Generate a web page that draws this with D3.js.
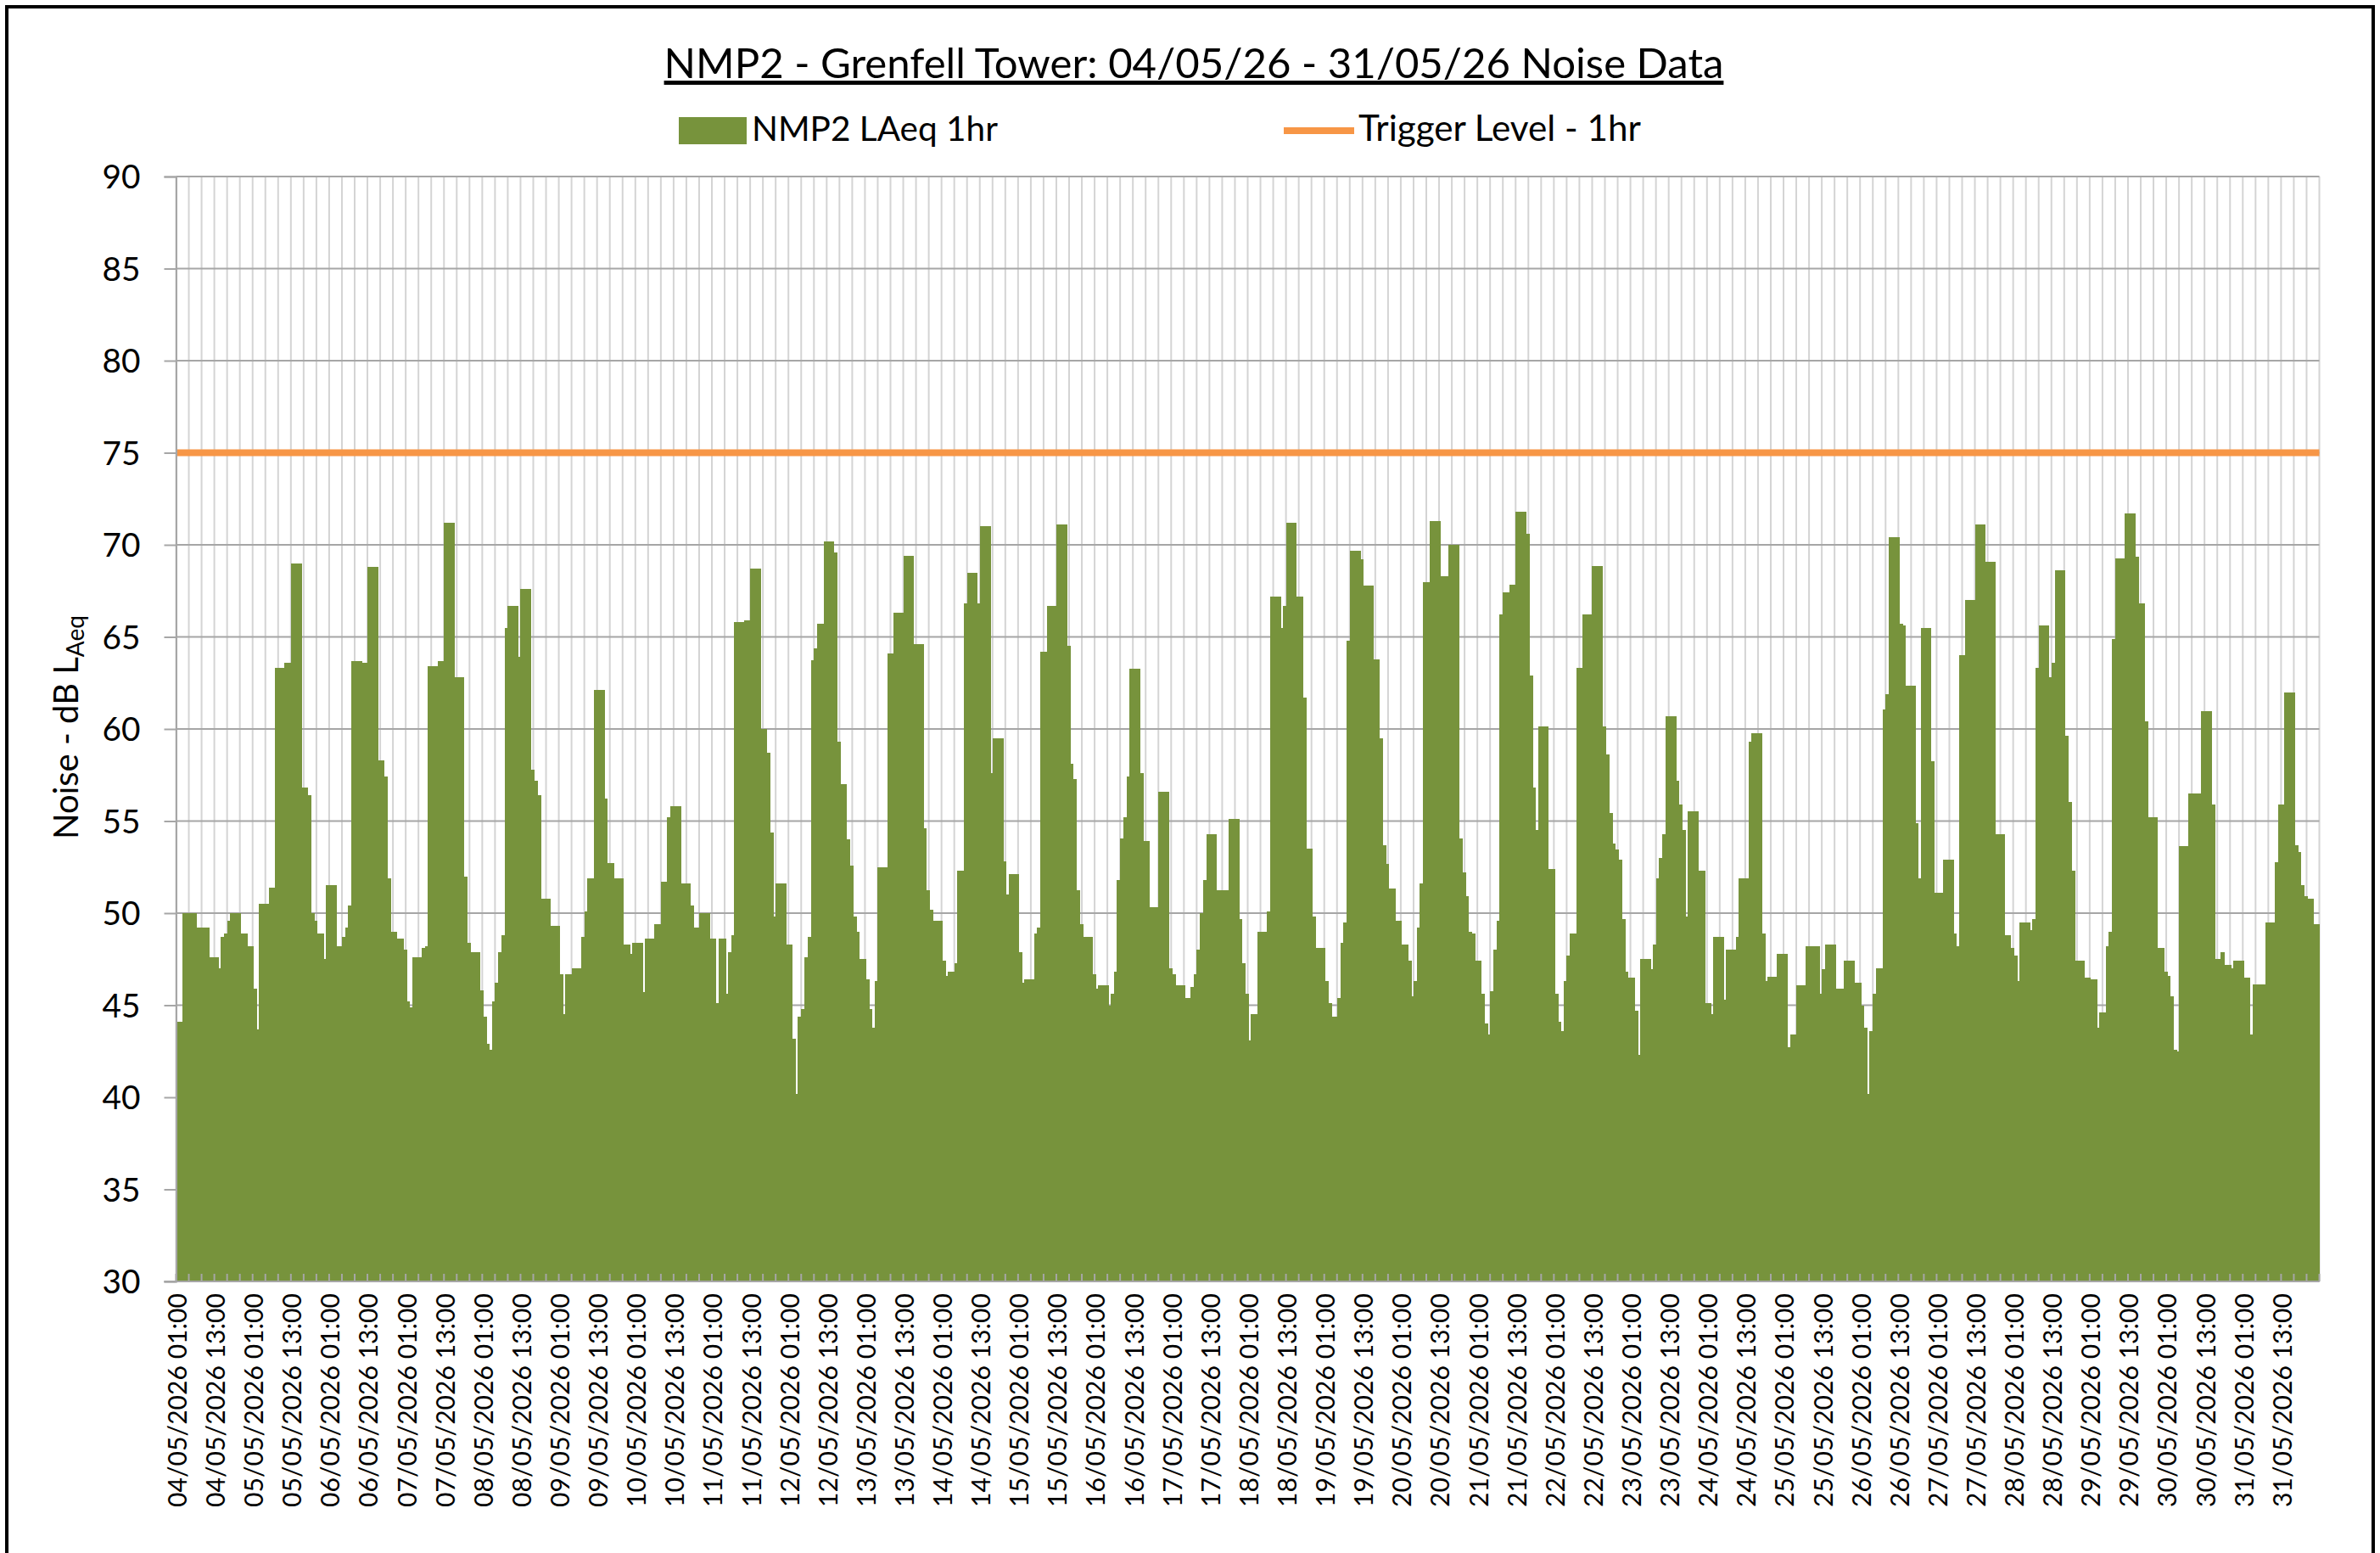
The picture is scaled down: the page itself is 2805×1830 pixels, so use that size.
<!DOCTYPE html>
<html>
<head>
<meta charset="utf-8">
<script src="https://cdn.jsdelivr.net/npm/d3@7"></script>
<style>
  html, body { margin: 0; padding: 0; background: #fff; }
  svg { display: block; }
  text { font-family: Lato, 'Open Sans', sans-serif; fill: #000; }
</style>
</head>
<body>
<svg id="chart"></svg>
<script>
const title = 'NMP2 - Grenfell Tower: 04/05/26 - 31/05/26 Noise Data';
const seriesName = 'NMP2 LAeq 1hr';
const triggerName = 'Trigger Level - 1hr';
const triggerLevel = 75;
const yTicks = [30, 35, 40, 45, 50, 55, 60, 65, 70, 75, 80, 85, 90];

const days = [
  '04/05/2026', '05/05/2026', '06/05/2026', '07/05/2026', '08/05/2026', '09/05/2026', '10/05/2026',
  '11/05/2026', '12/05/2026', '13/05/2026', '14/05/2026', '15/05/2026', '16/05/2026', '17/05/2026',
  '18/05/2026', '19/05/2026', '20/05/2026', '21/05/2026', '22/05/2026', '23/05/2026', '24/05/2026',
  '25/05/2026', '26/05/2026', '27/05/2026', '28/05/2026', '29/05/2026', '30/05/2026', '31/05/2026',
  '01/06/2026'
];
const hours = [
  '01:00', '02:00', '03:00', '04:00', '05:00', '06:00', '07:00', '08:00', '09:00', '10:00', '11:00', '12:00',
  '13:00', '14:00', '15:00', '16:00', '17:00', '18:00', '19:00', '20:00', '21:00', '22:00', '23:00', '00:00'
];

// hourly LAeq, one row per day (01:00 ... 00:00)
const laeq = [
  44.1, 44.1, 50.0, 50.0, 50.0, 50.0, 49.2, 49.2, 49.2, 49.2, 47.6, 47.6, 47.6, 47.0, 48.7, 48.9, 49.6, 50.0, 50.0, 50.0, 48.9, 48.9, 48.2, 48.2,
  45.9, 43.7, 50.5, 50.5, 50.5, 51.4, 51.4, 63.3, 63.3, 63.3, 63.6, 63.6, 69.0, 69.0, 69.0, 56.8, 56.8, 56.4, 50.0, 49.6, 48.9, 48.9, 47.5, 51.5,
  51.5, 51.5, 48.2, 48.2, 48.7, 49.2, 50.4, 63.7, 63.7, 63.7, 63.6, 63.6, 68.8, 68.8, 68.8, 58.3, 58.3, 57.4, 51.9, 49.0, 49.0, 48.6, 48.6, 48.0,
  45.2, 44.9, 47.6, 47.6, 47.6, 48.1, 48.2, 63.4, 63.4, 63.4, 63.7, 63.7, 71.2, 71.2, 71.2, 62.8, 62.8, 62.8, 52.0, 48.4, 47.9, 47.9, 47.9, 45.8,
  44.4, 42.9, 42.6, 45.2, 46.2, 47.9, 48.8, 65.5, 66.7, 66.7, 66.7, 63.9, 67.6, 67.6, 67.6, 57.8, 57.2, 56.4, 50.8, 50.8, 50.8, 49.3, 49.3, 49.3,
  46.7, 44.5, 46.7, 46.7, 47.0, 47.0, 47.0, 48.7, 50.1, 51.9, 51.9, 62.1, 62.1, 62.1, 56.2, 52.7, 52.7, 51.9, 51.9, 51.9, 48.3, 48.3, 47.8, 48.4,
  48.4, 48.4, 45.7, 48.6, 48.6, 48.6, 49.4, 49.4, 51.7, 51.7, 55.2, 55.8, 55.8, 55.8, 51.6, 51.6, 51.6, 50.4, 49.2, 49.2, 50.0, 50.0, 50.0, 48.6,
  48.6, 45.1, 48.6, 48.6, 45.6, 47.9, 48.8, 65.8, 65.8, 65.8, 65.9, 65.9, 68.7, 68.7, 68.7, 60.0, 60.0, 58.7, 54.4, 49.8, 51.6, 51.6, 51.6, 48.3,
  48.3, 43.2, 40.2, 44.4, 44.8, 47.6, 48.7, 63.75, 64.4, 65.7, 65.7, 70.2, 70.2, 70.2, 69.6, 59.3, 57.0, 57.0, 54.0, 52.6, 49.8, 49.0, 47.5, 47.5,
  46.4, 44.8, 43.8, 46.3, 52.5, 52.5, 52.5, 64.1, 64.1, 66.3, 66.3, 66.3, 69.4, 69.4, 69.4, 64.6, 64.6, 64.6, 54.6, 51.25, 50.2, 49.6, 49.6, 49.6,
  47.4, 46.6, 46.8, 46.8, 47.3, 52.3, 52.3, 66.8, 68.5, 68.5, 68.5, 66.8, 71.0, 71.0, 71.0, 57.6, 59.5, 59.5, 59.5, 52.8, 51.0, 52.1, 52.1, 52.1,
  47.9, 46.2, 46.4, 46.4, 46.4, 48.9, 49.2, 64.2, 64.2, 66.7, 66.7, 66.7, 71.1, 71.1, 71.1, 64.5, 58.1, 57.3, 51.25, 49.4, 48.7, 48.7, 48.7, 46.7,
  45.9, 46.1, 46.1, 46.1, 45.0, 45.6, 46.8, 51.8, 54.05, 55.2, 57.4, 63.25, 63.25, 63.25, 57.6, 53.9, 53.9, 50.3, 50.3, 50.3, 56.6, 56.6, 56.6, 47.0,
  46.7, 46.1, 46.1, 46.1, 45.4, 45.4, 46.0, 46.7, 48.0, 50.0, 51.8, 54.3, 54.3, 54.3, 51.25, 51.25, 51.25, 51.25, 55.1, 55.1, 55.1, 49.7, 47.3, 45.6,
  43.1, 44.5, 44.5, 49.0, 49.0, 49.0, 50.1, 67.2, 67.2, 67.2, 65.5, 66.7, 71.2, 71.2, 71.2, 67.2, 67.2, 61.7, 53.5, 53.5, 49.8, 48.1, 48.1, 48.1,
  46.3, 45.1, 44.4, 44.4, 45.4, 48.4, 49.5, 64.8, 69.7, 69.7, 69.7, 69.2, 67.8, 67.8, 67.8, 63.8, 63.8, 59.5, 53.7, 52.65, 51.35, 51.35, 49.6, 49.6,
  48.3, 48.3, 47.4, 45.5, 46.3, 49.2, 51.6, 67.95, 67.95, 71.3, 71.3, 71.3, 68.3, 68.3, 68.3, 70.0, 70.0, 70.0, 54.05, 52.2, 50.9, 49.0, 48.9, 47.4,
  47.4, 45.6, 44.0, 43.4, 45.75, 48.0, 49.6, 66.2, 67.4, 67.4, 67.85, 67.85, 71.8, 71.8, 71.8, 70.6, 62.9, 56.8, 54.5, 60.15, 60.15, 60.15, 52.4, 52.4,
  45.6, 44.1, 43.6, 46.3, 47.7, 48.9, 48.9, 63.3, 63.3, 66.2, 66.2, 66.2, 68.85, 68.85, 68.85, 60.15, 58.6, 55.45, 53.8, 53.45, 52.9, 49.7, 46.8, 46.5,
  46.5, 44.7, 42.3, 47.5, 47.5, 47.5, 46.95, 48.3, 51.9, 53.0, 54.3, 60.7, 60.7, 60.7, 57.2, 55.9, 54.5, 49.8, 55.55, 55.55, 55.55, 52.3, 52.3, 45.1,
  45.1, 44.5, 48.7, 48.7, 48.7, 45.3, 48.0, 48.0, 48.0, 48.7, 51.9, 51.9, 51.9, 59.3, 59.75, 59.75, 59.75, 48.9, 46.3, 46.55, 46.55, 46.55, 47.8, 47.8,
  47.8, 42.7, 43.4, 43.4, 46.1, 46.1, 46.1, 48.2, 48.2, 48.2, 48.2, 45.6, 46.95, 48.3, 48.3, 48.3, 45.9, 45.9, 45.9, 47.4, 47.4, 47.4, 46.2, 46.2,
  45.0, 43.8, 40.2, 43.6, 45.6, 47.0, 47.0, 61.05, 61.9, 70.4, 70.4, 70.4, 65.7, 65.6, 62.35, 62.35, 62.35, 54.9, 51.9, 65.5, 65.5, 65.5, 58.25, 51.1,
  51.1, 51.1, 52.9, 52.9, 52.9, 48.9, 48.2, 64.0, 64.0, 67.0, 67.0, 67.0, 71.1, 71.1, 71.1, 69.1, 69.1, 69.1, 54.3, 54.3, 54.3, 48.8, 48.8, 48.1,
  47.7, 46.3, 49.5, 49.5, 49.5, 49.1, 49.7, 63.3, 65.6, 65.6, 65.6, 62.8, 63.6, 68.6, 68.6, 68.6, 59.65, 56.05, 52.3, 47.4, 47.4, 47.4, 46.5, 46.5,
  46.4, 46.4, 43.8, 44.6, 44.6, 48.2, 49.0, 64.9, 69.25, 69.25, 69.25, 71.7, 71.7, 71.7, 69.35, 66.8, 66.8, 60.4, 55.2, 55.2, 55.2, 48.1, 48.1, 46.8,
  46.6, 45.5, 42.6, 42.5, 53.65, 53.65, 53.65, 56.5, 56.5, 56.5, 56.5, 60.95, 60.95, 60.95, 55.9, 47.5, 47.5, 47.9, 47.2, 47.2, 47.0, 47.4, 47.4, 47.4,
  46.5, 46.5, 43.4, 46.15, 46.15, 46.15, 46.15, 49.5, 49.5, 49.5, 52.75, 55.9, 55.9, 62.0, 62.0, 62.0, 53.7, 53.3, 51.5, 50.9, 50.8, 50.8, 49.4, 49.4
];

// 01:00 ... 23:00 on the day, then 00:00 belongs to the next date
const categories = [];
for (let d = 0; d < days.length - 1; d++) {
  hours.forEach((h, i) => categories.push((i === hours.length - 1 ? days[d + 1] : days[d]) + ' ' + h));
}
const data = categories.map((c, i) => ({ cat: c, value: laeq[i] }));

const W = 2805;
const H = 1830;
const plot = { left: 207.5, right: 2733.5, top: 208, bottom: 1510 };
const green = '#77933C';
const orange = '#F79646';

const svg = d3.select('#chart').attr('width', W).attr('height', H);

// scale text so its rendered width matches what the reference shows
function fitWidth (node, target) {
  const w = node.getComputedTextLength();
  const fs = parseFloat(node.getAttribute('font-size'));
  node.setAttribute('font-size', fs * target / w);
  return fs * target / w;
}

svg.append('rect')
  .attr('x', 0).attr('y', 0).attr('width', W).attr('height', H)
  .attr('fill', '#fff');

const x = d3.scaleBand()
  .domain(categories)
  .range([plot.left, plot.right])
  .padding(0);

const y = d3.scaleLinear()
  .domain([30, 90])
  .range([plot.bottom, plot.top]);

const edge = i => (i < categories.length ? x(categories[i]) : plot.right);

// vertical grid every 4 hours
svg.append('g')
  .selectAll('line')
  .data(d3.range(0, categories.length + 1, 4))
  .enter().append('line')
  .attr('x1', i => edge(i)).attr('x2', i => edge(i))
  .attr('y1', plot.top).attr('y2', plot.bottom)
  .attr('stroke', '#D4D4D4')
  .attr('stroke-width', 2);

// horizontal grid
svg.append('g')
  .selectAll('line')
  .data(yTicks)
  .enter().append('line')
  .attr('x1', plot.left).attr('x2', plot.right)
  .attr('y1', d => y(d)).attr('y2', d => y(d))
  .attr('stroke', '#A6A6A6')
  .attr('stroke-width', 2);

// bars, overlapped a little so no seams show between neighbours
svg.append('g')
  .attr('shape-rendering', 'crispEdges')
  .selectAll('rect')
  .data(data)
  .enter().append('rect')
  .attr('x', d => x(d.cat))
  .attr('width', (d, i) => (i === data.length - 1 ? x.bandwidth() : x.bandwidth() + 1.5))
  .attr('y', d => y(d.value))
  .attr('height', d => plot.bottom - y(d.value))
  .attr('fill', green);

// trigger level
svg.append('line')
  .attr('x1', plot.left).attr('x2', plot.right)
  .attr('y1', y(triggerLevel)).attr('y2', y(triggerLevel))
  .attr('stroke', orange)
  .attr('stroke-width', 8);

// y axis
const yAxis = svg.append('g')
  .attr('transform', `translate(${plot.left},0)`)
  .call(d3.axisLeft(y).tickValues(yTicks).tickSize(14).tickPadding(28));
yAxis.select('.domain').attr('stroke', '#A6A6A6').attr('stroke-width', 2);
yAxis.selectAll('.tick line').attr('stroke', '#A6A6A6').attr('stroke-width', 2);
yAxis.selectAll('.tick text').attr('font-size', 44).attr('font-family', 'Lato').attr('fill', '#000');
const yFs = fitWidth(yAxis.select('.tick:last-of-type text').node(), 45);
yAxis.selectAll('.tick text').attr('font-size', yFs).attr('dy', '0.36em');

// x axis, labelled every 12 hours
const xAxis = svg.append('g')
  .attr('transform', `translate(0,${plot.bottom})`)
  .call(d3.axisBottom(x).tickValues(categories.filter((d, i) => i % 12 === 0)).tickSize(0));
xAxis.select('.domain').remove();
xAxis.selectAll('.tick text')
  .attr('font-size', 32)
  .attr('font-family', 'Lato')
  .attr('fill', '#000')
  .attr('transform', 'rotate(-90)')
  .attr('x', -14)
  .attr('y', 0)
  .attr('dy', '0.35em')
  .style('text-anchor', 'end');
const xFs = fitWidth(xAxis.select('.tick text').node(), 252);
xAxis.selectAll('.tick text').attr('font-size', xFs);

svg.append('g')
  .selectAll('line')
  .data(d3.range(0, categories.length + 1, 4))
  .enter().append('line')
  .attr('x1', i => edge(i)).attr('x2', i => edge(i))
  .attr('y1', plot.bottom - 9).attr('y2', plot.bottom)
  .attr('stroke', '#A6A6A6')
  .attr('stroke-width', 2);

svg.append('line')
  .attr('x1', plot.left - 14).attr('x2', plot.right)
  .attr('y1', plot.bottom).attr('y2', plot.bottom)
  .attr('stroke', '#A6A6A6')
  .attr('stroke-width', 2);

// y title
const yTitle = svg.append('text')
  .attr('transform', 'translate(92,857) rotate(-90)')
  .attr('text-anchor', 'middle')
  .attr('font-size', 40);
yTitle.append('tspan').text('Noise - dB L');
yTitle.append('tspan')
  .attr('font-size', '70%')
  .attr('baseline-shift', '-25%')
  .text('Aeq');
fitWidth(yTitle.node(), 264);

// title
const t = svg.append('text')
  .attr('x', 1407)
  .attr('y', 92)
  .attr('text-anchor', 'middle')
  .attr('font-size', 48)
  .style('text-decoration', 'underline')
  .text(title);
fitWidth(t.node(), 1249);

// legend
const legend = svg.append('g');
legend.append('rect')
  .attr('x', 800).attr('y', 138).attr('width', 80).attr('height', 32)
  .attr('fill', green);
const l1 = legend.append('text')
  .attr('x', 886).attr('y', 166)
  .attr('font-size', 40)
  .text(seriesName);
fitWidth(l1.node(), 290);
legend.append('line')
  .attr('x1', 1513).attr('x2', 1596)
  .attr('y1', 154).attr('y2', 154)
  .attr('stroke', orange)
  .attr('stroke-width', 8);
const l2 = legend.append('text')
  .attr('x', 1601).attr('y', 166)
  .attr('font-size', 40)
  .text(triggerName);
fitWidth(l2.node(), 333);

// outer frame
svg.append('rect')
  .attr('x', 8).attr('y', 8).attr('width', W - 16).attr('height', H - 6)
  .attr('fill', 'none')
  .attr('stroke', '#000')
  .attr('stroke-width', 4);
</script>
</body>
</html>
